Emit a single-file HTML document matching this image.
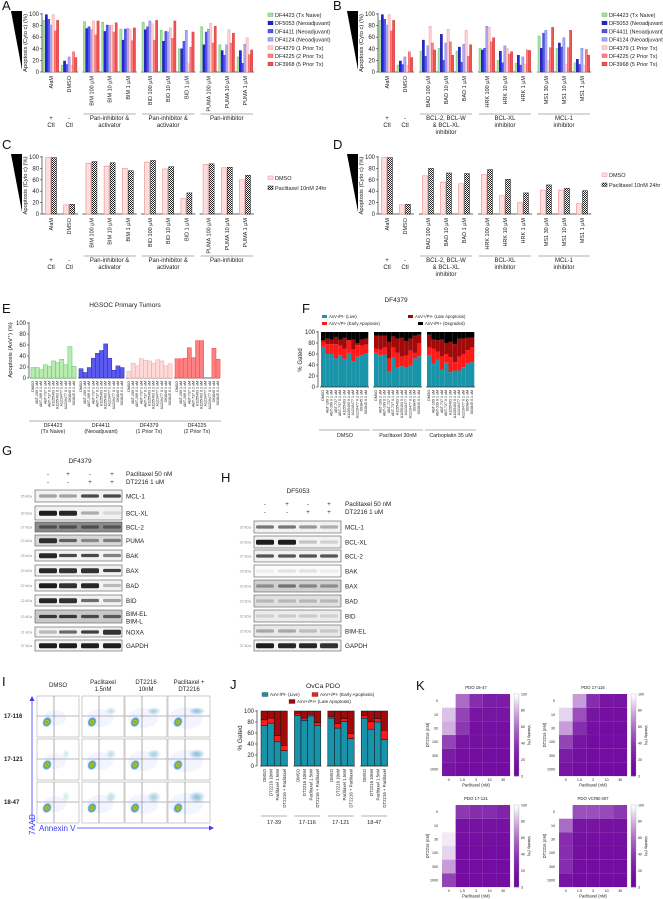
<!DOCTYPE html>
<html><head><meta charset="utf-8">
<style>
html,body{margin:0;padding:0;background:#fff;}
svg{display:block;font-family:"Liberation Sans",sans-serif;}
</style></head>
<body>
<svg id="fig" width="663" height="899" viewBox="0 0 663 899" xmlns="http://www.w3.org/2000/svg">
<defs>
<pattern id="chk" width="2" height="2" patternUnits="userSpaceOnUse"><rect width="2" height="2" fill="#fff"/><rect width="1" height="1" fill="#222"/><rect x="1" y="1" width="1" height="1" fill="#222"/></pattern>
<radialGradient id="blob"><stop offset="0" stop-color="#e02020"/><stop offset="0.25" stop-color="#f0c020"/><stop offset="0.5" stop-color="#40c040"/><stop offset="0.75" stop-color="#3080e0" stop-opacity="0.7"/><stop offset="1" stop-color="#6090ff" stop-opacity="0"/></radialGradient>
<radialGradient id="blob2"><stop offset="0" stop-color="#40c040"/><stop offset="0.5" stop-color="#3080e0" stop-opacity="0.5"/><stop offset="1" stop-color="#6090ff" stop-opacity="0"/></radialGradient>
</defs>
</svg>
<script>
// ---------- DATA ----------
const catsA = ["AlaM","DMSO","BIM 100 µM","BIM 10 µM","BIM 1 µM","BID 100 µM","BID 10 µM","BID 1 µM","PUMA 100 µM","PUMA 10 µM","PUMA 1 µM"];
const catsB = ["AlaM","DMSO","BAD 100 µM","BAD 10 µM","BAD 1 µM","HRK 100 µM","HRK 10 µM","HRK 1 µM","MS1 30 µM","MS1 10 µM","MS1 1 µM"];
const seriesNames = ["DF4423 (Tx Naive)","DF5053 (Neoadjuvant)","DF4411 (Neoadjuvant)","DF4124 (Neoadjuvant)","DF4379 (1 Prior Tx)","DF4225 (2 Prior Tx)","DF3968 (5 Prior Tx)"];
const aDF4423 = [89,12,87,86,74,86,72,40,78,47,26];
const aDF5053 = [99,19,75,70,55,73,53,40,47,37,37];
const aDF4411 = [91,13,78,81,74,78,70,53,69,29,15];
const aDF4124 = [81,26,73,80,75,88,69,72,74,47,48];
const aDF4379 = [99,11,88,81,74,83,76,14,84,73,59];
const aDF4225 = [71,35,64,69,54,55,58,43,50,50,30];
const aDF3968 = [89,25,88,85,76,89,88,69,79,67,38];
const bDF4423 = [89,12,36,41,36,41,20,15,62,41,16];
const bDF5053 = [99,19,55,65,43,38,36,29,41,50,22];
const bDF4411 = [91,13,27,20,17,41,16,12,67,43,13];
const bDF4124 = [81,26,45,50,48,79,45,26,72,59,41];
const bDF4379 = [99,11,79,74,72,77,41,13,19,13,12];
const bDF4225 = [71,35,50,52,27,52,31,38,42,42,39];
const bDF3968 = [89,25,38,29,47,59,35,37,77,72,29];
const cDMSO = [99,16,89,84,80,91,79,27,87,81,60];
const cPac  = [99,17,92,90,76,94,83,37,88,82,68];
const dDMSO = [99,16,67,56,53,69,32,20,42,42,18];
const dPac  = [99,17,80,72,71,78,61,37,51,45,41];
const yTicks = [0,20,40,60,80,100];
const catsE = ["DMSO","ABT-199 1 uM","ABT-199 0.1 uM","ABT-737 1 uM","ABT-737 0.1 uM","A1155463 1 uM","A1155463 0.1 uM","A1210477 1 uM","A1210477 0.1 uM","S63845 1 uM","S63845 0.1 uM"];
const eDF4423 = [19,19,15,24,21,31,28,34,24,57,21];
const eDF4411 = [17,10,19,36,45,50,62,36,14,22,19];
const eDF4379 = [12,27,22,35,32,31,27,33,31,22,26];
const eDF4225 = [35,35,36,55,37,68,68,0,0,54,34];
const fDMSOLive = [73,60,60,52,58,51,62,46,55,58,61];
const fDMSOEarly = [9,18,18,26,17,19,23,22,21,17,16];
const fDMSOLate = [3,10,8,13,11,20,0,18,4,11,11];
const fPacLive = [62,58,59,28,53,35,38,35,39,52,56];
const fPacEarly = [8,10,13,24,19,27,17,22,27,10,24];
const fPacLate = [23,25,21,30,20,26,35,26,22,31,15];
const fCarLive = [58,42,50,31,44,27,30,30,36,43,45];
const fCarEarly = [14,28,14,24,16,27,15,25,24,24,27];
const fCarLate = [23,16,21,31,20,28,33,33,28,23,18];
const catsJ = ["DMSO","DT2216 10nM","Paclitaxel 1.5nM","DT2216 + Paclitaxel"];
const groupsJ = ["17-39","17-116","17-121","18-47"];
const jLive = [[74,78,44,28],[92,83,91,74],[87,69,81,50],[87,67,80,48]];
const jEarly = [[10,9,11,9],[3,4,3,5],[3,8,5,9],[5,14,6,17]];
const kTitles = ["PDO 18-47","PDO 17-116","PDO 17-121","PDO VCRB-307"];
const kRows = ["0","10","30","100","300","1000"];
const kCols = ["0","1.5","3","10","30"];
const k1847 = [[100,60,35,25,25],[85,45,20,20,20],[80,40,15,15,15],[45,20,15,15,15],[25,15,12,12,12],[20,12,12,12,12]];
const k17116 = [[100,75,35,20,20],[90,50,20,15,15],[75,35,15,12,12],[45,20,12,12,12],[25,15,12,12,12],[20,12,10,10,10]];
const k17121 = [[100,40,35,35,30],[100,18,18,18,18],[95,15,15,15,15],[90,12,12,12,12],[75,12,12,12,12],[45,12,12,12,12]];
const kVCRB = [[100,50,50,48,40],[60,20,20,18,18],[35,15,15,15,15],[35,15,12,12,12],[35,12,12,12,12],[20,10,10,10,10]];

// ---------- HELPERS ----------
const NS="http://www.w3.org/2000/svg";
const svg=document.getElementById('fig');
function mk(tag,attrs,parent){const e=document.createElementNS(NS,tag);for(const k in attrs)e.setAttribute(k,attrs[k]);(parent||svg).appendChild(e);return e;}
function tx(x,y,s,size,extra){const e=mk('text',Object.assign({x:x,y:y,'font-size':size,fill:'#222'},extra||{}));e.textContent=s;return e;}
const FILL=["#a8e0a0","#2525d0","#5555ee","#a8a8f5","#ffd0d0","#ff8080","#ee5555"];
const STROKE=["#60b860","#1818a0","#3838c8","#7070e0","#f09090","#f05050","#d03030"];

function yAxis(ax,y0,yTop,name){
  const sc=v=>y0-v/100*(y0-yTop);
  const l=mk('line',{x1:ax,y1:y0,x2:ax,y2:yTop-1,stroke:'#333','stroke-width':0.7});
  
  
  yTicks.forEach(t=>{
    mk('line',{x1:ax-2,y1:sc(t),x2:ax,y2:sc(t),stroke:'#333','stroke-width':0.6});
    const e=tx(ax-3,sc(t)+2,String(t),6,{'text-anchor':'end'});
    
    
  });
  return sc;
}
function rotLabel(x,y,s,size,name){
  const e=tx(x,y,s,size,{'text-anchor':'end',transform:'rotate(-90 '+x+' '+y+')'});
  
  
  return e;
}
function wedge(x1,x2,y1,y2,name){
  const p=mk('polygon',{points:x1+','+y1+' '+x2+','+y1+' '+x2+','+y2,fill:'#000'});
  
  
}
function panelLetter(x,y,s){
  const e=tx(x,y,s,13,{fill:'#111'});
  
  
}
function catX(base,step,gap,i){const g=i<2?0:i<5?1:i<8?2:3;return base+i*step+g*gap;}

function groupedChart(cfg){
  const sc=yAxis(cfg.ax,cfg.y0,cfg.yTop,cfg.name);
  const segs=[[0,0],[1,1],[2,4],[5,7],[8,10]];
  segs.forEach(s=>{
    const l=mk('line',{x1:catX(cfg.base,cfg.step,cfg.gap,s[0])-9,y1:cfg.y0,x2:catX(cfg.base,cfg.step,cfg.gap,s[1])+9,y2:cfg.y0,stroke:'#333','stroke-width':0.7});
    
    
  });
  cfg.cats.forEach((c,i)=>{
    const cx=catX(cfg.base,cfg.step,cfg.gap,i);
    rotLabel(cx+2,cfg.y0+4,c,5.5,cfg.name+'-x-label');
    if(cfg.series.length===7){
      cfg.series.forEach((ser,si)=>{
        const bw=2.25,x=cx-8+si*bw,v=ser[i];
        const r=mk('rect',{x:x,y:sc(v),width:bw,height:cfg.y0-sc(v),fill:FILL[si],stroke:STROKE[si],'stroke-width':0.4});
        
        
      });
    } else {
      const v1=cfg.series[0][i],v2=cfg.series[1][i];
      const r1=mk('rect',{x:cx-5.5,y:sc(v1),width:5,height:cfg.y0-sc(v1),fill:'#fddede',stroke:'#f08a8a','stroke-width':0.6});
      
      
      const r2=mk('rect',{x:cx+0.5,y:sc(v2),width:5,height:cfg.y0-sc(v2),fill:'url(#chk)',stroke:'#222','stroke-width':0.5});
      
      
    }
  });
  const yt=tx(cfg.ax-15,(cfg.y0+cfg.yTop)/2,'Apoptosis (Cyto c) (%)',5.8,{'text-anchor':'middle',transform:'rotate(-90 '+(cfg.ax-15)+' '+((cfg.y0+cfg.yTop)/2)+')'});
  
  
  wedge(cfg.ax-31,cfg.ax-20,cfg.yTop-3,cfg.y0-2,cfg.name+'-potency-wedge');
  const gy=cfg.lineY;
  const c0=catX(cfg.base,cfg.step,cfg.gap,0),c1=catX(cfg.base,cfg.step,cfg.gap,1);
  tx(c0,gy+6,'+',6,{'text-anchor':'middle'});tx(c0,gy+13,'Ctl',6,{'text-anchor':'middle'});
  tx(c1,gy+6,'-',6,{'text-anchor':'middle'});tx(c1,gy+13,'Ctl',6,{'text-anchor':'middle'});
  cfg.groups.forEach((g,gi)=>{
    const a=catX(cfg.base,cfg.step,cfg.gap,2+gi*3)-8,b=catX(cfg.base,cfg.step,cfg.gap,4+gi*3)+8;
    const l=mk('line',{x1:a,y1:gy,x2:b,y2:gy,stroke:'#999','stroke-width':0.7});
    
    
    g.forEach((s,li)=>{
      const e=tx((a+b)/2,gy+6+li*7,s,6,{'text-anchor':'middle'});
      
      
    });
  });
  cfg.legend.forEach((s,li)=>{
    const y=cfg.legY+li*cfg.legStep;
    const sw=mk('rect',{x:cfg.legX,y:y-4,width:5,height:3.5,fill:cfg.legFill[li],stroke:cfg.legStroke[li],'stroke-width':0.5});
    
    
    const e=tx(cfg.legX+7,y,s,5.5);
    
    
  });
}

panelLetter(2,10,'A');
groupedChart({name:'panel-a',ax:42,y0:72,yTop:14,base:51,step:18.2,gap:4,cats:catsA,
  series:[aDF4423,aDF5053,aDF4411,aDF4124,aDF4379,aDF4225,aDF3968],lineY:114,
  groups:[["Pan-inhibitor &","activator"],["Pan-inhibitor &","activator"],["Pan-inhibitor"]],
  legend:seriesNames,legX:268,legY:17,legStep:8.2,legFill:FILL,legStroke:STROKE});
panelLetter(333,10,'B');
groupedChart({name:'panel-b',ax:378,y0:72,yTop:14,base:387,step:18,gap:5,cats:catsB,
  series:[bDF4423,bDF5053,bDF4411,bDF4124,bDF4379,bDF4225,bDF3968],lineY:114,
  groups:[["BCL-2, BCL-W","& BCL-XL","inhibitor"],["BCL-XL","inhibitor"],["MCL-1","inhibitor"]],
  legend:seriesNames,legX:602,legY:17,legStep:8.2,legFill:FILL,legStroke:STROKE});
panelLetter(2,149,'C');
groupedChart({name:'panel-c',ax:42,y0:214,yTop:157,base:51,step:18.2,gap:4,cats:catsA,
  series:[cDMSO,cPac],lineY:256,
  groups:[["Pan-inhibitor &","activator"],["Pan-inhibitor &","activator"],["Pan-inhibitor"]],
  legend:["DMSO","Paclitaxel 10nM 24hr"],legX:268,legY:180,legStep:10,legFill:['#fddede','url(#chk)'],legStroke:['#f08a8a','#222']});
panelLetter(333,149,'D');
groupedChart({name:'panel-d',ax:378,y0:214,yTop:157,base:387,step:18,gap:5,cats:catsB,
  series:[dDMSO,dPac],lineY:256,
  groups:[["BCL-2, BCL-W","& BCL-XL","inhibitor"],["BCL-XL","inhibitor"],["MCL-1","inhibitor"]],
  legend:["DMSO","Paclitaxel 10nM 24hr"],legX:602,legY:177,legStep:10,legFill:['#fddede','url(#chk)'],legStroke:['#f08a8a','#222']});

// ---------- E ----------
panelLetter(2,313,'E');
(function(){
  const t=tx(125,307,'HGSOC Primary Tumors',6.5,{'text-anchor':'middle'});
  
  
  const sc=yAxis(29,378,323,'panel-e');
  const yt=tx(12,350,'Apoptosis (AxV⁺) (%)',5.8,{'text-anchor':'middle',transform:'rotate(-90 12 350)'});
  
  
  const sers=[eDF4423,eDF4411,eDF4379,eDF4225];
  const fills=["#b8ecb0","#5a5aee","#ffd8d8","#ff8080"],strokes=["#60c060","#2828c0","#f0a0a0","#f04848"];
  const groups=[["DF4423","(Tx Naive)"],["DF4411","(Neoadjuvant)"],["DF4379","(1 Prior Tx)"],["DF4225","(2 Prior Tx)"]];
  sers.forEach((ser,gi)=>{
    const x0=31+gi*48;
    const ax=mk('line',{x1:x0-1,y1:378,x2:x0+45,y2:378,stroke:'#333','stroke-width':0.7});
    
    
    ser.forEach((v,i)=>{
      const r=mk('rect',{x:x0+i*4.1,y:sc(v),width:4.1,height:378-sc(v),fill:fills[gi],stroke:strokes[gi],'stroke-width':0.5});
      
      
      rotLabel(x0+i*4.1+3,381,catsE[i],3.6,'panel-e-x-label');
    });
    const l=mk('line',{x1:x0-2,y1:421,x2:x0+46,y2:421,stroke:'#999','stroke-width':0.7});
    
    
    groups[gi].forEach((s,li)=>{
      const e=tx(x0+22,427+li*6,s,5.3,{'text-anchor':'middle'});
      
      
    });
  });
})();

// ---------- F ----------
panelLetter(302,313,'F');
(function(){
  const t=tx(396,302,'DF4379',6.5,{'text-anchor':'middle'});
  
  
  const sc=yAxis(318,387,332,'panel-f');
  const yt=tx(302,360,'% Gated',6,{'text-anchor':'middle',transform:'rotate(-90 302 360)'});
  
  
  const leg=[["AxV-/PI- (Live)","#1a94a8",322,318],["AxV+/PI- (Early Apoptosis)","#ff1a1a",322,325],["AxV+/PI+ (Late Apoptosis)","#a00a0a",408,318],["AxV-/PI+ (Degraded)","#000",418,325]];
  leg.forEach(L=>{
    const s=mk('rect',{x:L[2],y:L[3]-3,width:5,height:3,fill:L[1]});
    
    
    const e=tx(L[2]+7,L[3],L[0],4.3);
    
    
  });
  const groups=[[fDMSOLive,fDMSOEarly,fDMSOLate,'DMSO'],[fPacLive,fPacEarly,fPacLate,'Paclitaxel 30nM'],[fCarLive,fCarEarly,fCarLate,'Carboplatin 35 uM']];
  groups.forEach((g,gi)=>{
    const x0=321+gi*53;
    g[0].forEach((lv,i)=>{
      const x=x0+i*4.3;
      const e=g[1][i],la=g[2][i];
      const layers=[[0,lv,'#1a94a8'],[lv,lv+e,'#ff1a1a'],[lv+e,lv+e+la,'#a00a0a'],[lv+e+la,100,'#000']];
      layers.forEach(L=>{
        const r=mk('rect',{x:x,y:sc(L[1]),width:4.3,height:sc(L[0])-sc(L[1]),fill:L[2]});
        
        
      });
      rotLabel(x+3,390,catsE[i],3.6,'panel-f-x-label');
    });
    const ax=mk('line',{x1:x0-1,y1:387,x2:x0+48,y2:387,stroke:'#333','stroke-width':0.7});
    
    
    const l=mk('line',{x1:x0-2,y1:430,x2:x0+49,y2:430,stroke:'#999','stroke-width':0.7});
    
    
    const gl=tx(x0+24,437,g[3],5.3,{'text-anchor':'middle'});
    
    
  });
})();

// ---------- G / H western blots ----------
function blot(cfg){
  panelLetter(cfg.lx,cfg.ly,cfg.letter);
  const t=tx(cfg.tx,cfg.ty,cfg.title,6.5,{'text-anchor':'middle'});
  
  
  const pac=['-','+','-','+'],dt=['-','-','+','+'];
  cfg.lanes.forEach((lx,i)=>{
    tx(lx,cfg.sy,pac[i],6,{'text-anchor':'middle'});
    tx(lx,cfg.sy+8,dt[i],6,{'text-anchor':'middle'});
  });
  const p1=tx(cfg.labX,cfg.sy,'Paclitaxel 50 nM',6.3);
  
  
  const p2=tx(cfg.labX,cfg.sy+8,'DT2216 1 uM',6.3);
  
  
  cfg.rows.forEach(r=>{
    const bx=mk('rect',{x:cfg.bx1,y:r[0],width:cfg.bx2-cfg.bx1,height:r[1],fill:r[5]||'#f2f2f2',stroke:'#555','stroke-width':0.6});
    
    
    r[4].forEach((v,i)=>{
      const b=mk('rect',{x:cfg.lanes[i]-9,y:r[0]+r[1]/2-1.6-(v>0.8?0.6:0),width:18,height:3.2+(v>0.8?1.8:0),rx:1.5,fill:'#111','fill-opacity':v});
      
      
    });
    const lb=tx(cfg.labX,r[0]+r[1]/2+2.3+(r[6]||0),r[2],6.3);
    
    
    const kd=tx(cfg.bx1-3,r[0]+r[1]/2+1.5,r[3],3.6,{'text-anchor':'end',fill:'#888'});
    
    
  });
}
blot({name:'panel-g',letter:'G',lx:2,ly:455,title:'DF4379',tx:80,ty:463,lanes:[48,68,90,112],sy:476,labX:126,bx1:35,bx2:122,
  rows:[[490,12,'MCL-1','35 kDa',[0.35,0.35,0.75,0.75]],[506,14,'BCL-XL','30 kDa',[0.95,0.9,0.3,0.12]],[522,10,'BCL-2','27 kDa',[0.5,0.5,0.5,0.45],'#8a8a8a'],
  [535,11,'PUMA','23 kDa',[0.85,0.6,0.4,0.45],'#d8d8d8'],[550,11,'BAK','25 kDa',[0.9,0.75,0.75,0.5]],[565,11,'BAX','20 kDa',[0.9,0.85,0.85,0.8]],
  [580,11,'BAD','22 kDa',[0.95,0.85,0.9,0.25]],[595,11,'BID','22 kDa',[0.9,0.85,0.6,0.35]],[610,13,'BIM-EL','23 kDa',[0.8,0.8,0.7,0.6],'#c8c8c8',-3],
  [627,10,'NOXA','11 kDa',[0.25,0.6,0.8,0.85]],[640,11,'GAPDH','37 kDa',[0.95,0.95,0.95,0.95]]]});
(function(){const e=tx(126,623.5,'BIM-L',6.3);

})();
blot({name:'panel-h',letter:'H',lx:221,ly:482,title:'DF5053',tx:298,ty:493,lanes:[265,287,308,329],sy:506,labX:345,bx1:254,bx2:341,
  rows:[[521,12,'MCL-1','35 kDa',[0.55,0.55,0.4,0.3]],[536,12,'BCL-XL','30 kDa',[0.95,0.95,0.2,0.15]],[550,12,'BCL-2','27 kDa',[0.7,0.7,0.7,0.7]],
  [565,12,'BAK','25 kDa',[0.05,0.1,0.1,0.05],'#fafafa'],[580,12,'BAX','20 kDa',[0.35,0.5,0.4,0.35],'#d0d0d0'],[595,12,'BAD','22 kDa',[0.2,0.2,0.2,0.2],'#e0e0e0'],
  [610,12,'BID','22 kDa',[0.12,0.15,0.15,0.12],'#ececec'],[625,12,'BIM-EL','23 kDa',[0.3,0.3,0.2,0.15],'#e8e8e8'],[640,11,'GAPDH','37 kDa',[0.95,0.9,0.9,0.85]]]});

// ---------- I flow plots ----------
panelLetter(2,686,'I');
(function(){
  const heads=[["DMSO"],["Paclitaxel","1.5nM"],["DT2216","10nM"],["Paclitaxel +","DT2216"]];
  const cols=[37,82,125,168],rowsY=[696,739,782],rowNames=["17-116","17-121","18-47"];
  heads.forEach((h,i)=>h.forEach((s,li)=>{
    const e=tx(cols[i]+21,684+li*7-(h.length===1?-3:0),s,6,{'text-anchor':'middle'});
    
    
  }));
  rowsY.forEach((y,ri)=>{
    const e=tx(4,y+22,rowNames[ri],6,{'font-weight':'bold'});
    
    
    cols.forEach((x,ci)=>{
      const g=mk('g',{});
      
      
      mk('rect',{x:x,y:y,width:42,height:41,fill:'#fff',stroke:'#aaa','stroke-width':0.6},g);
      mk('ellipse',{cx:x+18,cy:y+22,rx:11+ci*2,ry:8+ci,fill:'#b8c8ff','fill-opacity':0.18},g);
      if(ci>0||ri>0) mk('ellipse',{cx:x+29,cy:y+15,rx:4+ci*1.5,ry:4+ri,fill:'url(#blob2)','fill-opacity':0.25+ci*0.12},g);
      mk('ellipse',{cx:x+10,cy:y+26,rx:4.5,ry:5.5,fill:'url(#blob)',transform:'rotate(30 '+(x+10)+' '+(y+26)+')'},g);
      mk('line',{x1:x+17,y1:y,x2:x+17,y2:y+41,stroke:'#777','stroke-width':0.6},g);
      mk('line',{x1:x,y1:y+20,x2:x+42,y2:y+20,stroke:'#777','stroke-width':0.6},g);
    });
  });
  const a1=mk('line',{x1:32,y1:822,x2:32,y2:700,stroke:'#3a3aff','stroke-width':0.8});
  
  
  mk('polygon',{points:'29.5,701 34.5,701 32,696',fill:'#3a3aff'});
  const t1=tx(35,835,'7AAD',8,{fill:'#3a3aff',transform:'rotate(-90 35 835)'});
  
  
  const t2=tx(39,831,'Annexin V',8,{fill:'#3a3aff'});
  
  
  const a2=mk('line',{x1:77,y1:828,x2:210,y2:828,stroke:'#3a3aff','stroke-width':0.8});
  
  
  mk('polygon',{points:'209,825.5 209,830.5 214,828',fill:'#3a3aff'});
})();

// ---------- J ----------
panelLetter(230,689,'J');
(function(){
  const t=tx(323,688,'OvCa PDO',6.8,{'text-anchor':'middle'});
  
  
  const leg=[["AxV-/PI- (Live)","#1893aa",262,696],["AxV+/PI- (Early Apoptosis)","#ff1a1a",312,696],["AxV+/PI+ (Late Apoptosis)","#a00a0a",289,703]];
  leg.forEach(L=>{
    const s=mk('rect',{x:L[2],y:L[3]-3.5,width:6,height:4,fill:L[1],stroke:'#222','stroke-width':0.3});
    
    
    const e=tx(L[2]+8,L[3],L[0],4.6);
    
    
  });
  const sc=yAxis(257,766,711,'panel-j');
  const yt=tx(242,738,'% Gated',6.5,{'text-anchor':'middle',transform:'rotate(-90 242 738)'});
  
  
  groupsJ.forEach((gname,gi)=>{
    const x0=261+gi*33.4;
    jLive[gi].forEach((lv,i)=>{
      const x=x0+i*6.6,e=jEarly[gi][i];
      [[0,lv,'#1893aa'],[lv,lv+e,'#ff1a1a'],[lv+e,100,'#a00a0a']].forEach(L=>{
        const r=mk('rect',{x:x,y:sc(L[1]),width:6.6,height:sc(L[0])-sc(L[1]),fill:L[2],stroke:'#111','stroke-width':0.5});
        
        
      });
      rotLabel(x+5,769,catsJ[i],4.3,'panel-j-x-label');
    });
    const ax=mk('line',{x1:x0-1,y1:766,x2:x0+27,y2:766,stroke:'#333','stroke-width':0.7});
    
    
    const l=mk('line',{x1:x0,y1:816,x2:x0+26,y2:816,stroke:'#999','stroke-width':0.7});
    
    
    const gl=tx(x0+13,824,gname,5.5,{'text-anchor':'middle'});
    
    
  });
})();

// ---------- K heatmaps ----------
panelLetter(416,690,'K');
(function(){
  function col(v){const t=Math.max(0,Math.min(1,(v-3)/97));
    const d=[112,8,158],w=[255,255,255];
    return 'rgb('+d.map((c,i)=>Math.round(c+(w[i]-c)*Math.pow(t,1.7))).join(',')+')';}
  const mats=[k1847,k17116,k17121,kVCRB];
  const pos=[[442,694],[559,694],[442,805],[559,805]];
  mats.forEach((m,mi)=>{
    const x0=pos[mi][0],y0=pos[mi][1],w=68,h=82,cw=w/kCols.length,ch=h/kRows.length;
    const t=tx(x0+34,y0-5,kTitles[mi],4.3,{'text-anchor':'middle'});
    
    
    m.forEach((row,ri)=>row.forEach((v,ci)=>{
      const r=mk('rect',{x:x0+ci*cw,y:y0+ri*ch,width:cw+0.1,height:ch+0.1,fill:col(v),stroke:'rgba(255,255,255,0.15)','stroke-width':0.3});
      
      
    }));
    kRows.forEach((s,ri)=>tx(x0-4,y0+ri*ch+ch/2+1.3,s,3.6,{'text-anchor':'end'}));
    kCols.forEach((s,ci)=>tx(x0+ci*cw+cw/2,y0+h+5,s,3.6,{'text-anchor':'middle'}));
    const xl=tx(x0+34,y0+h+10.5,'Paclitaxel (nM)',4.2,{'text-anchor':'middle'});
    
    
    const yl=tx(x0-13,y0+h/2,'DT2216 (nM)',4.2,{'text-anchor':'middle',transform:'rotate(-90 '+(x0-13)+' '+(y0+h/2)+')'});
    
    
    const cb=x0+72;
    for(let k=0;k<40;k++){
      const v=100-k*97/39;
      const r=mk('rect',{x:cb,y:y0+k*h/40,width:5,height:h/40+0.3,fill:col(v)});
      
      
    }
    mk('rect',{x:cb,y:y0,width:5,height:h,fill:'none',stroke:'#999','stroke-width':0.3});
    [[100,0],[80,0.2],[60,0.4],[40,0.6],[20,0.8],[3,1]].forEach(p=>tx(cb+7,y0+p[1]*h+1.3,String(p[0]),3.6));
    const ct=tx(cb+14,y0+h/2,'Viability (%)',3.8,{'text-anchor':'middle',transform:'rotate(90 '+(cb+14)+' '+(y0+h/2)+')'});
    
    
  });
})();
</script>
</body></html>
